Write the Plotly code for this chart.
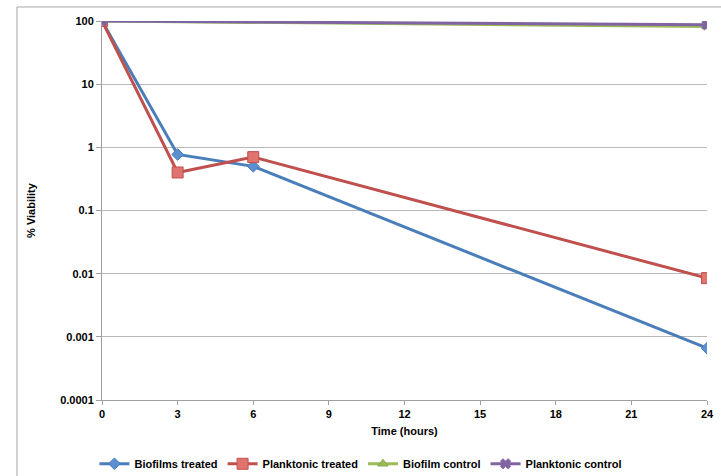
import plotly.graph_objects as go

hours = [0, 3, 6, 24]
biofilms_treated = [100, 0.77, 0.5, 0.00066]
planktonic_treated = [100, 0.4, 0.7, 0.0085]
control_hours = [0, 24]
biofilm_control = [100, 82]
planktonic_control = [100, 87]

y_ticks = [0.0001, 0.001, 0.01, 0.1, 1, 10, 100]
y_tick_labels = ["0.0001", "0.001", "0.01", "0.1", "1", "10", "100"]
x_ticks = [0, 3, 6, 9, 12, 15, 18, 21, 24]

BLUE = "#4A7EBB"
RED = "#C0504D"
GREEN = "#9BBB59"
PURPLE = "#8064A2"

fig = go.Figure()
fig.add_trace(go.Scatter(x=hours, y=biofilms_treated, name="Biofilms treated",
                         mode="lines+markers",
                         line=dict(color=BLUE, width=3),
                         marker=dict(symbol="diamond", size=9, color="#5B8FD0",
                                     line=dict(color=BLUE, width=1))))
fig.add_trace(go.Scatter(x=hours, y=planktonic_treated, name="Planktonic treated",
                         mode="lines+markers",
                         line=dict(color=RED, width=3),
                         marker=dict(symbol="square", size=11, color="#E07370",
                                     line=dict(color=RED, width=1))))
fig.add_trace(go.Scatter(x=control_hours, y=biofilm_control, name="Biofilm control",
                         mode="lines+markers",
                         line=dict(color=GREEN, width=3),
                         marker=dict(symbol="triangle-up", size=9, color=GREEN,
                                     line=dict(color="#8AAA48", width=1))))
fig.add_trace(go.Scatter(x=control_hours, y=planktonic_control, name="Planktonic control",
                         mode="lines+markers",
                         line=dict(color=PURPLE, width=3),
                         marker=dict(symbol="x", size=9, color=PURPLE,
                                     line=dict(color=PURPLE, width=1))))

fig.update_layout(
    width=721, height=476,
    margin=dict(l=102, r=14, t=21, b=76, autoexpand=False),
    paper_bgcolor="white", plot_bgcolor="white",
    font=dict(family="Liberation Sans, Arial, sans-serif", size=11, color="black"),
    showlegend=True,
    legend=dict(orientation="h", x=0.428, xanchor="center", y=-0.13, yanchor="top",
                font=dict(size=11, family="Liberation Sans, Arial, sans-serif", weight="bold"),
                itemwidth=30, tracegroupgap=0, bgcolor="rgba(0,0,0,0)"),
    shapes=[dict(type="rect", xref="paper", yref="paper",
                 x0=-0.1405, x1=1.2, y0=-0.3, y1=1.037,
                 line=dict(color="#A6A6A6", width=1), fillcolor="rgba(0,0,0,0)", layer="below")],
)

fig.update_xaxes(range=[0, 24], tickvals=x_ticks, ticks="outside", ticklen=4,
                 tickcolor="#A0A0A0", showline=True, linecolor="#A0A0A0", linewidth=1,
                 showgrid=False, zeroline=False, automargin=False,
                 tickfont=dict(size=11, weight="bold"),
                 title=dict(text="<b>Time (hours)</b>", font=dict(size=11), standoff=8))
fig.update_yaxes(type="log", range=[-4, 2], tickvals=y_ticks, ticktext=y_tick_labels,
                 ticks="outside", ticklen=5, tickcolor="#A0A0A0",
                 showline=True, linecolor="#A0A0A0", linewidth=1,
                 showgrid=True, gridcolor="#B8B8B8", gridwidth=1, zeroline=False,
                 automargin=False,
                 tickfont=dict(size=11, weight="bold"),
                 title=dict(text="<b>% Viability</b>", font=dict(size=11), standoff=22))

fig.write_html("out.html", config={"displayModeBar": False},
               post_script="document.body.style.margin='0';")
